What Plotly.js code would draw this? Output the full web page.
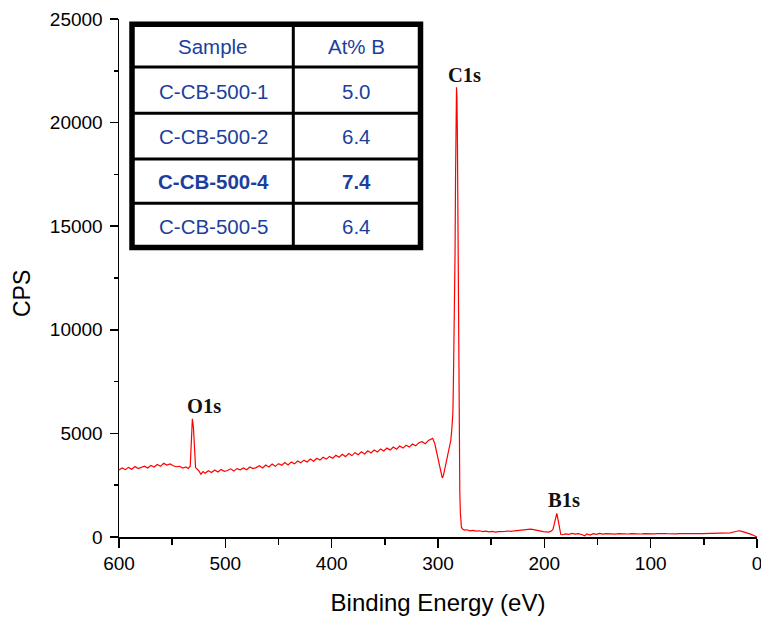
<!DOCTYPE html>
<html><head><meta charset="utf-8">
<script src="https://cdn.plot.ly/plotly-3.0.1.min.js"></script>
<style>html,body{margin:0;padding:0;background:#fff}#chart{width:761px;height:617px}</style>
</head><body><div id="chart"></div>
<script>
// Binding energy (eV) and counts per second
const energy = [600,597,594,591,588,585,582,579,576,573,570,567,564,561,558,555,552,549,546,543,540,537,535,533,532,531,530,529,528,527,525,523,521,519,516,513,510,507,504,501,498,495,492,489,486,483,480,477,474,471,468,465,462,459,456,453,450,447,444,441,438,435,432,429,426,423,420,417,414,411,408,405,402,399,396,393,390,387,384,381,378,375,372,369,366,363,360,357,354,351,348,345,342,339,336,333,330,327,324,321,318,315,312,309,307,305,303,301,299,297,296,295,293,291,289.5,288,287,286,285.5,285,284.5,284,283.5,283,282.6,282.2,281.8,281.4,281,280.5,280,279.5,279,278.5,278,277,275,273,270,267,264,261,258,255,252,249,246,243,240,237,234,231,228,225,222,219,216,213,210,207,204,201,198,196,194,192,191,190,189,188.3,187.5,186.5,185.5,184.5,183,180,177,174,171,168,165,162,160,157,154,151,148,145,142,139,136,133,130,127,124,121,118,115,112,109,106,103,100,97,94,91,88,85,82,79,76,73,70,67,64,61,58,55,52,49,46,43,40,37,34,31,28,25,22,19,17,15,12,9,6,3,0];
const cps = [3230,3330,3250,3360,3270,3400,3300,3350,3420,3330,3450,3380,3500,3410,3560,3470,3530,3440,3390,3410,3330,3380,3310,3420,4300,5700,5300,3900,3350,3300,3200,3030,3160,3080,3200,3110,3230,3140,3260,3170,3210,3290,3180,3300,3240,3330,3250,3380,3300,3350,3440,3330,3470,3380,3520,3410,3540,3460,3590,3480,3620,3530,3670,3580,3710,3620,3760,3660,3800,3710,3850,3760,3890,3800,3940,3850,3990,3880,4030,3930,4070,3970,4110,4010,4160,4060,4200,4100,4250,4150,4290,4200,4340,4240,4390,4290,4430,4340,4490,4400,4550,4600,4500,4660,4710,4760,4500,4000,3450,3000,2850,2950,3400,3950,4300,4650,5200,6000,7500,9200,11000,13500,17400,20300,21700,21200,19600,16000,11400,7200,3700,2200,1200,700,480,380,330,350,300,320,280,300,260,280,250,270,240,260,250,270,290,270,300,320,340,330,360,380,360,320,280,260,250,240,270,350,550,800,1050,1140,950,600,250,120,110,150,130,170,140,160,120,60,150,90,160,130,170,140,160,150,170,140,160,150,170,145,165,150,170,145,160,150,170,155,165,150,170,160,150,170,155,165,150,170,160,175,155,170,160,165,150,175,160,170,165,175,180,200,240,290,300,280,240,200,140,70,10];

// Inset table
const tableHeader = ['Sample', 'At% B'];
const samples = ['C-CB-500-1', 'C-CB-500-2', 'C-CB-500-4', 'C-CB-500-5'];
const atB = ['5.0', '6.4', '7.4', '6.4'];
const boldSample = 'C-CB-500-4';

// Peak labels
const peakNames = ['O1s', 'C1s', 'B1s'];

// ---- layout helpers (pixel -> paper) ----
const W = 761, H = 617, ML = 119, MR = 4, MT = 19, MB = 80;
const PW = W - ML - MR, PH = H - MT - MB;
const px = x => (x - ML) / PW;
const py = y => (H - MB - y) / PH;

const shapes = [];
const annotations = [];
const tableBlue = '#1c3f9e';
const sansFont = 'Arial, Liberation Sans, sans-serif';

// table frame
shapes.push({type:'rect', xref:'paper', yref:'paper', x0:px(132), x1:px(420.5), y0:py(247.5), y1:py(24.3),
  line:{color:'#000', width:5.5}, fillcolor:'#fff', layer:'above'});
shapes.push({type:'line', xref:'paper', yref:'paper', x0:px(293.3), x1:px(293.3), y0:py(245), y1:py(27),
  line:{color:'#000', width:3}, layer:'above'});
const rowLines = [67, 113.3, 159, 203.3];
rowLines.forEach(y => shapes.push({type:'line', xref:'paper', yref:'paper', x0:px(134), x1:px(418.5), y0:py(y), y1:py(y),
  line:{color:'#000', width:3}, layer:'above'}));

const colCenters = [213, 356.5];
const rowCenters = [46.5, 91, 136.5, 181.5, 226];
const rows = [tableHeader].concat(samples.map((s, i) => [s, atB[i]]));
rows.forEach((r, ri) => {
  const bold = r[0] === boldSample;
  r.forEach((t, ci) => annotations.push({
    xref:'paper', yref:'paper', x:px(colCenters[ci]), y:py(rowCenters[ri]), text:t, showarrow:false,
    xanchor:'center', yanchor:'middle',
    font:{family:sansFont, size:20.5, color:tableBlue, weight: bold ? 'bold' : 'normal'}
  }));
});

// peak labels
const peakPos = [[203.5, 405.5], [464, 75.5], [564, 499.5]];
peakNames.forEach((n, i) => annotations.push({
  xref:'paper', yref:'paper', x:px(peakPos[i][0]), y:py(peakPos[i][1]), text:n, showarrow:false,
  xanchor:'center', yanchor:'middle',
  font:{family:'Times New Roman, Liberation Serif, serif', size:20.5, color:'#111', weight:'bold'}
}));

// y-axis title
annotations.push({xref:'paper', yref:'paper', x:px(22), y:py(294), text:'CPS', showarrow:false,
  textangle:-90, xanchor:'center', yanchor:'middle', font:{family:sansFont, size:23, color:'#000'}});

const trace = {
  x: energy, y: cps, type:'scatter', mode:'lines',
  line:{color:'#ff0000', width:1.2}, hoverinfo:'skip'
};

const layout = {
  width: W, height: H,
  margin:{l:ML, r:MR, t:MT, b:MB, pad:0},
  paper_bgcolor:'#fff', plot_bgcolor:'#fff',
  showlegend:false,
  font:{family:sansFont, color:'#000'},
  xaxis:{
    range:[600, 0], autorange:false, showgrid:false, zeroline:false,
    showline:true, linecolor:'#000', linewidth:1.5,
    ticks:'outside', ticklen:9, tickwidth:1.5, tickcolor:'#000',
    tick0:0, dtick:100, ticklabeloverflow:'allow',
    minor:{dtick:50, ticks:'outside', ticklen:6, tickwidth:1.5, tickcolor:'#000', showgrid:false},
    tickfont:{family:sansFont, size:19, color:'#000'},
    title:{text:'Binding Energy (eV)', font:{family:sansFont, size:24, color:'#000'}, standoff:21},
    automargin:false
  },
  yaxis:{
    range:[0, 25000], autorange:false, showgrid:false, zeroline:false,
    showline:true, linecolor:'#000', linewidth:1.5,
    ticks:'outside', ticklen:8, tickwidth:1.5, tickcolor:'#000',
    tick0:0, dtick:5000, tickformat:'d', ticklabelstandoff:3,
    minor:{dtick:2500, ticks:'outside', ticklen:4, tickwidth:1.5, tickcolor:'#000', showgrid:false},
    tickfont:{family:sansFont, size:19, color:'#000'},
    automargin:false
  },
  shapes: shapes,
  annotations: annotations
};

Plotly.newPlot('chart', [trace], layout, {displayModeBar:false, staticPlot:true});
</script>
</body></html>
